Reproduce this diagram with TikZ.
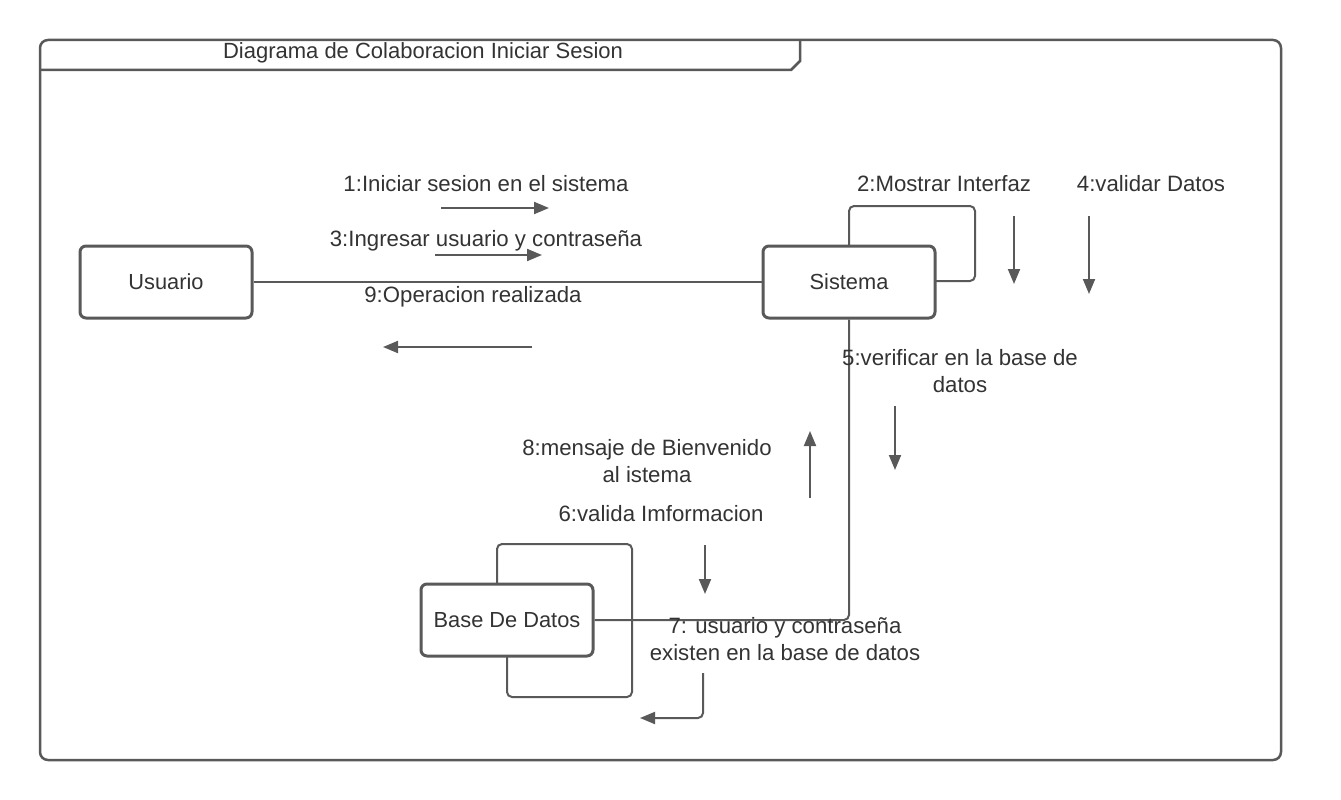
\documentclass[tikz,border=0pt]{standalone}
\usepackage{fontspec}
\setmainfont{Liberation Sans}
\usetikzlibrary{arrows.meta}
\definecolor{ln}{HTML}{595959}
\definecolor{tx}{HTML}{333333}
\tikzset{
  obj/.style={draw=ln, line width=3pt, rounded corners=6pt, fill=white, minimum width=172pt, minimum height=72pt, text=tx, font=\fontsize{21.8}{26}\selectfont, inner sep=0pt},
  conn/.style={draw=ln, line width=2pt, rounded corners=5pt},
  msg/.style={draw=ln, line width=2pt, -{Triangle[length=15pt,width=12pt]}},
  lbl/.style={text=tx, font=\fontsize{22.2}{27}\selectfont, align=center, inner sep=0pt},
}
\begin{document}
\begin{tikzpicture}[x=1pt,y=-1pt]
\useasboundingbox (0,0) rectangle (1341,800);
% frame
\draw[ln, line width=2.5pt, rounded corners=8pt] (40,40) rectangle (1281,760);
\draw[ln, line width=2.5pt] (800,40) -- (800,61) -- (791,70) -- (40,70);
\node[lbl, font=\fontsize{22}{26}\selectfont] (title) at (423,53) {Diagrama de Colaboracion Iniciar Sesion};

% self loops (drawn first, under boxes)
\draw[conn] (849,282) -- (849,206) -- (975,206) -- (975,281) -- (900,281);
\draw[conn] (497,620) -- (497,544) -- (632,544) -- (632,697) -- (507,697) -- (507,620);

% objects
\node[obj] (usu) at (166,282) {Usuario};
\node[obj] (sis) at (849,282) {Sistema};
\node[obj] (bd) at (507,620) {Base De Datos};

% links
\coordinate (corner) at (849,620);
\draw[conn] (usu.east) -- (sis.west);
\draw[conn] (sis.south) -- (corner) -- (bd.east);

% labels
\node[lbl] (l1) at (486,184) {1:Iniciar sesion en el sistema};
\node[lbl] (l3) at (486,241) {3:Ingresar usuario y contraseña};
\node[lbl] (l9) at (473,297) {9:Operacion realizada};
\node[lbl] (l2) at (944,184) {2:Mostrar Interfaz};
\node[lbl] (l4) at (1151,184) {4:validar Datos};
\node[lbl] (l5) at (960,371) {5:verificar en la base de\\datos};
\node[lbl] (l8) at (647,461) {8:mensaje de Bienvenido\\al istema};
\node[lbl] (l6) at (661,514) {6:valida Imformacion};
\node[lbl] (l7) at (785,639) {7: usuario y contraseña\\existen en la base de datos};

% message arrows
\coordinate (a1s) at (441,208); \coordinate (a1e) at (549,208);
\coordinate (a3s) at (435,255); \coordinate (a3e) at (542,255);
\coordinate (a9s) at (532,347); \coordinate (a9e) at (383,347);
\coordinate (a2s) at (1014,216); \coordinate (a2e) at (1014,284);
\coordinate (a4s) at (1089,216); \coordinate (a4e) at (1089,294);
\coordinate (a5s) at (895,406); \coordinate (a5e) at (895,470);
\coordinate (a8s) at (810,498); \coordinate (a8e) at (810,431);
\coordinate (a6s) at (705,545); \coordinate (a6e) at (705,594);
\coordinate (a7s) at (703,673); \coordinate (a7m) at (703,718); \coordinate (a7e) at (640,718);
\draw[msg] (a1s) -- (a1e);
\draw[msg] (a3s) -- (a3e);
\draw[msg] (a9s) -- (a9e);
\draw[msg] (a2s) -- (a2e);
\draw[msg] (a4s) -- (a4e);
\draw[msg] (a5s) -- (a5e);
\draw[msg] (a8s) -- (a8e);
\draw[msg] (a6s) -- (a6e);
\draw[msg, rounded corners=5pt] (a7s) -- (a7m) -- (a7e);
\end{tikzpicture}
\end{document}
